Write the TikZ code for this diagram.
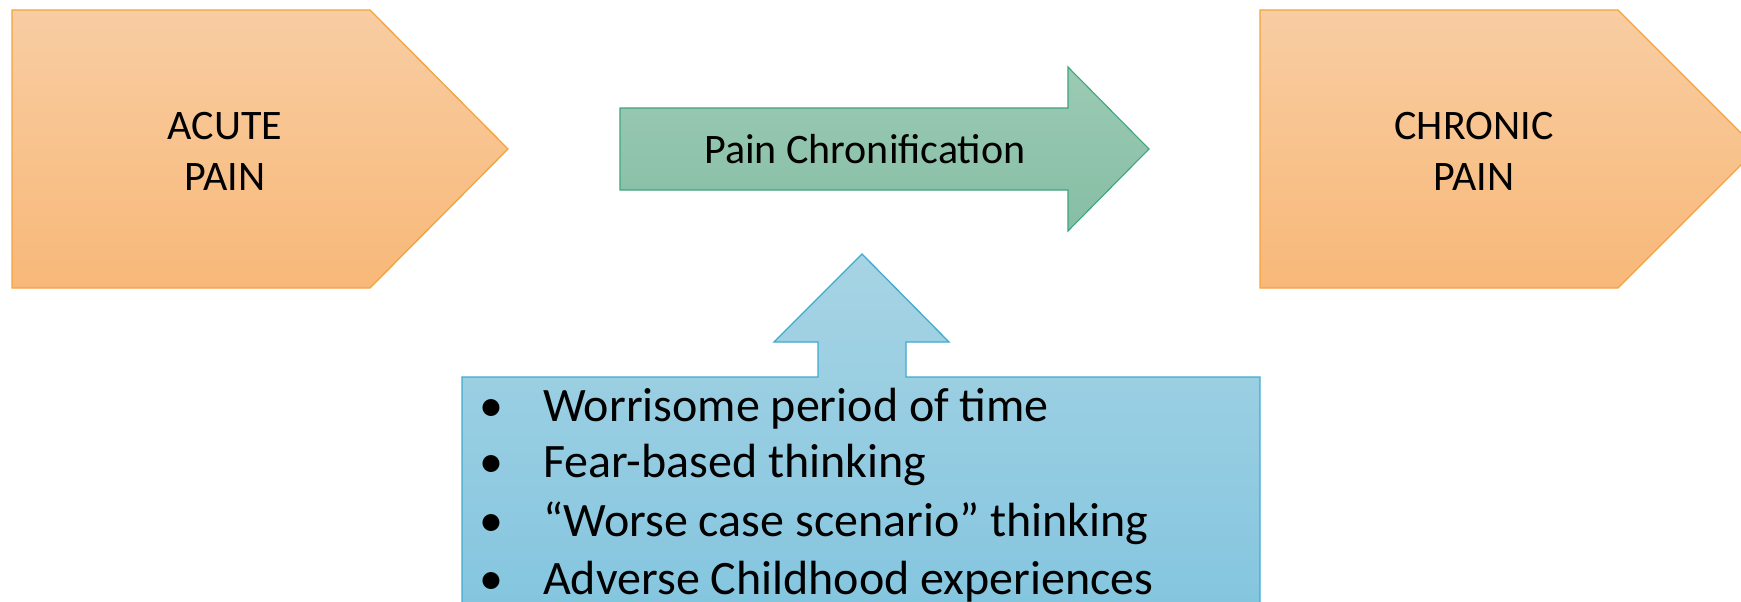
\documentclass[tikz,border=0pt]{standalone}
\usepackage{fontspec}
\setmainfont{Carlito}
\definecolor{orTop}{HTML}{F8CDA2}
\definecolor{orBot}{HTML}{F8B878}
\definecolor{orLine}{HTML}{F4A23C}
\definecolor{grTop}{HTML}{9CCAB5}
\definecolor{grBot}{HTML}{86BEA4}
\definecolor{grLine}{HTML}{3EA57F}
\definecolor{blTop}{HTML}{A7D4E4}
\definecolor{blBot}{HTML}{83C5DF}
\definecolor{blLine}{HTML}{3FAAD0}
\tikzset{
  orshape/.style={top color=orTop, bottom color=orBot, draw=orLine, line width=1.3pt, line join=miter},
  grshape/.style={top color=grTop, bottom color=grBot, draw=grLine, line width=1.1pt, line join=miter},
  blshape/.style={top color=blTop, bottom color=blBot, draw=blLine, line width=1.3pt, line join=miter},
  bigtxt/.style={font=\fontsize{42}{51}\selectfont, align=center, inner sep=0pt},
  midtxt/.style={font=\fontsize{42}{51}\selectfont, inner sep=0pt},
  bultxt/.style={font=\fontsize{48}{58}\selectfont, inner sep=0pt, anchor=base west},
}
\begin{document}
\begin{tikzpicture}[x=1pt,y=-1pt]
\useasboundingbox (0,0) rectangle (1741,602);
\clip (0,0) rectangle (1741,602);
% acute pentagon
\path[orshape] (12,10) -- (370,10) -- (508,149) -- (370,288) -- (12,288) -- cycle;
\node[bigtxt] (acute) at (225,151) {ACUTE\\PAIN};
% chronic pentagon
\path[orshape] (1260,10) -- (1618,10) -- (1757,149) -- (1618,288) -- (1260,288) -- cycle;
\node[bigtxt] (chronic) at (1474,151) {CHRONIC\\PAIN};
% green arrow
\path[grshape] (620,108) -- (1068,108) -- (1068,67) -- (1149,149) -- (1068,231) -- (1068,190) -- (620,190) -- cycle;
\node[midtxt, anchor=base] (chron) at (865,163) {Pain Chronification};
% blue up-arrow callout
\path[blshape] (462,620) -- (462,377) -- (818,377) -- (818,342) -- (774,342) -- (862,254) -- (949,342) -- (906,342) -- (906,377) -- (1260,377) -- (1260,620) -- cycle;
\node[bultxt, anchor=base] (b1) at (491,421) {•};
\node[bultxt, anchor=base] (b2) at (491,477) {•};
\node[bultxt, anchor=base] (b3) at (491,536) {•};
\node[bultxt, anchor=base] (b4) at (491,594) {•};
\node[bultxt] (t1) at (543,421) {Worrisome period of time};
\node[bultxt] (t2) at (543,477) {Fear-based thinking};
\node[bultxt] (t3) at (543,536) {“Worse case scenario” thinking};
\node[bultxt] (t4) at (543,594) {Adverse Childhood experiences};
\end{tikzpicture}
\end{document}
